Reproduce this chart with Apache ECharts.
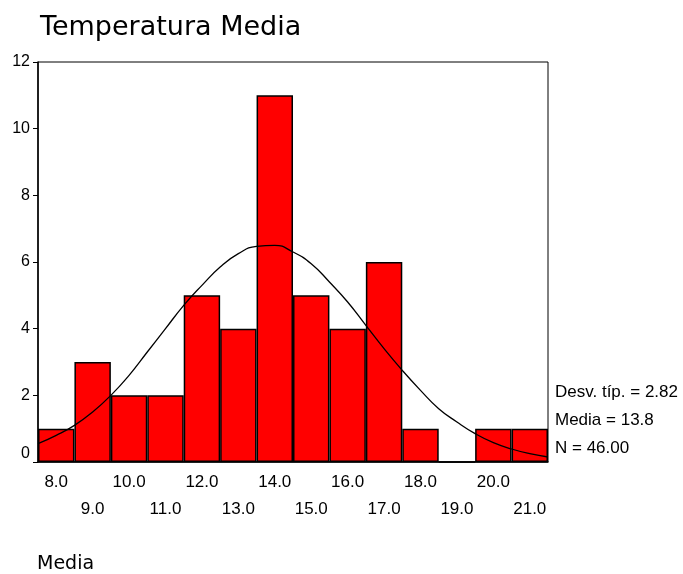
<!DOCTYPE html>
<html><head><meta charset="utf-8">
<script src="https://cdn.jsdelivr.net/npm/echarts@6/dist/echarts.min.js"></script>
<style>html,body{margin:0;padding:0;background:#fff}#c{width:683px;height:574px}</style>
</head><body><div id="c"></div>
<script>
const categories = ['8.0','9.0','10.0','11.0','12.0','13.0','14.0','15.0','16.0','17.0','18.0','19.0','20.0','21.0'];
const counts = [1,3,2,2,5,4,11,5,4,6,1,0,1,1];
const curveX = [7.5,8,8.5,9,9.5,10,10.5,11,11.5,12,12.5,13,13.5,14,14.5,15,15.5,16,16.5,17,17.5,18,18.5,19,19.5,20,20.5,21,21.5];
const curveY = [0.55,0.8,1.1,1.5,2.0,2.6,3.3,4.0,4.7,5.3,5.85,6.25,6.47,6.5,6.3,5.95,5.4,4.8,4.1,3.4,2.75,2.15,1.6,1.2,0.85,0.58,0.39,0.25,0.15];
const yTicks = [0,2,4,6,8,10,12];
const stats = ['Desv. típ. = 2.82','Media = 13.8','N = 46.00'];
const titleText = 'Temperatura Media';
const xName = 'Media';

const font = 'Liberation Sans, Arial, sans-serif';
const wide = 'DejaVu Sans, sans-serif';
const chart = echarts.init(document.getElementById('c'));
chart.setOption({
  backgroundColor: '#fff',
  animation: false,
  title: { text: titleText, left: 35, top: 9, textStyle: { fontFamily: wide, fontSize: 27, fontWeight: 'normal', color: '#000' } },
  grid: { left: 38, top: 62, right: 135, bottom: 112, show: true, borderColor: '#000', borderWidth: 1, backgroundColor: 'transparent' },
  xAxis: [
    { type: 'category', data: categories, boundaryGap: true,
      axisLine: { lineStyle: { color: '#000', width: 1.5 } },
      axisTick: { alignWithLabel: true, length: 5, lineStyle: { color: '#000' } },
      axisLabel: { interval: 0, color: '#000', fontFamily: font, fontSize: 17, margin: 7, lineHeight: 27,
        formatter: (v, i) => (i % 2 ? '\n' + v : v) } },
    { type: 'value', min: 7.5, max: 21.5, show: false }
  ],
  yAxis: { type: 'value', min: yTicks[0], max: yTicks[yTicks.length-1], interval: 2,
    splitLine: { show: false },
    axisLine: { show: true, lineStyle: { color: '#000', width: 1.5 } },
    axisTick: { show: true, length: 5, lineStyle: { color: '#000' } },
    axisLabel: { color: '#000', fontFamily: font, fontSize: 16, margin: 8,
      formatter: v => (v === 0 ? '{z|0}' : String(v)),
      rich: { z: { fontFamily: font, fontSize: 16, color: '#000', padding: [0, 0, 16, 0] } } } },
  series: [
    { type: 'bar', xAxisIndex: 0, data: counts, barCategoryGap: '0%',
      itemStyle: { color: '#ff0000', borderColor: '#000', borderWidth: 1.5 } },
    { type: 'line', xAxisIndex: 1, data: curveX.map((x, i) => [x, curveY[i]]), smooth: true, showSymbol: false,
      lineStyle: { color: '#000', width: 1.3 }, z: 5 }
  ],
  graphic: [
    ...stats.map((s, i) => ({ type: 'text', left: 555, top: 384 + i * 28, style: { text: s, fill: '#000', font: '17px ' + font } })),
    { type: 'text', left: 37, top: 555, style: { text: xName, fill: '#000', font: '19px ' + wide } }
  ]
});
</script></body></html>
